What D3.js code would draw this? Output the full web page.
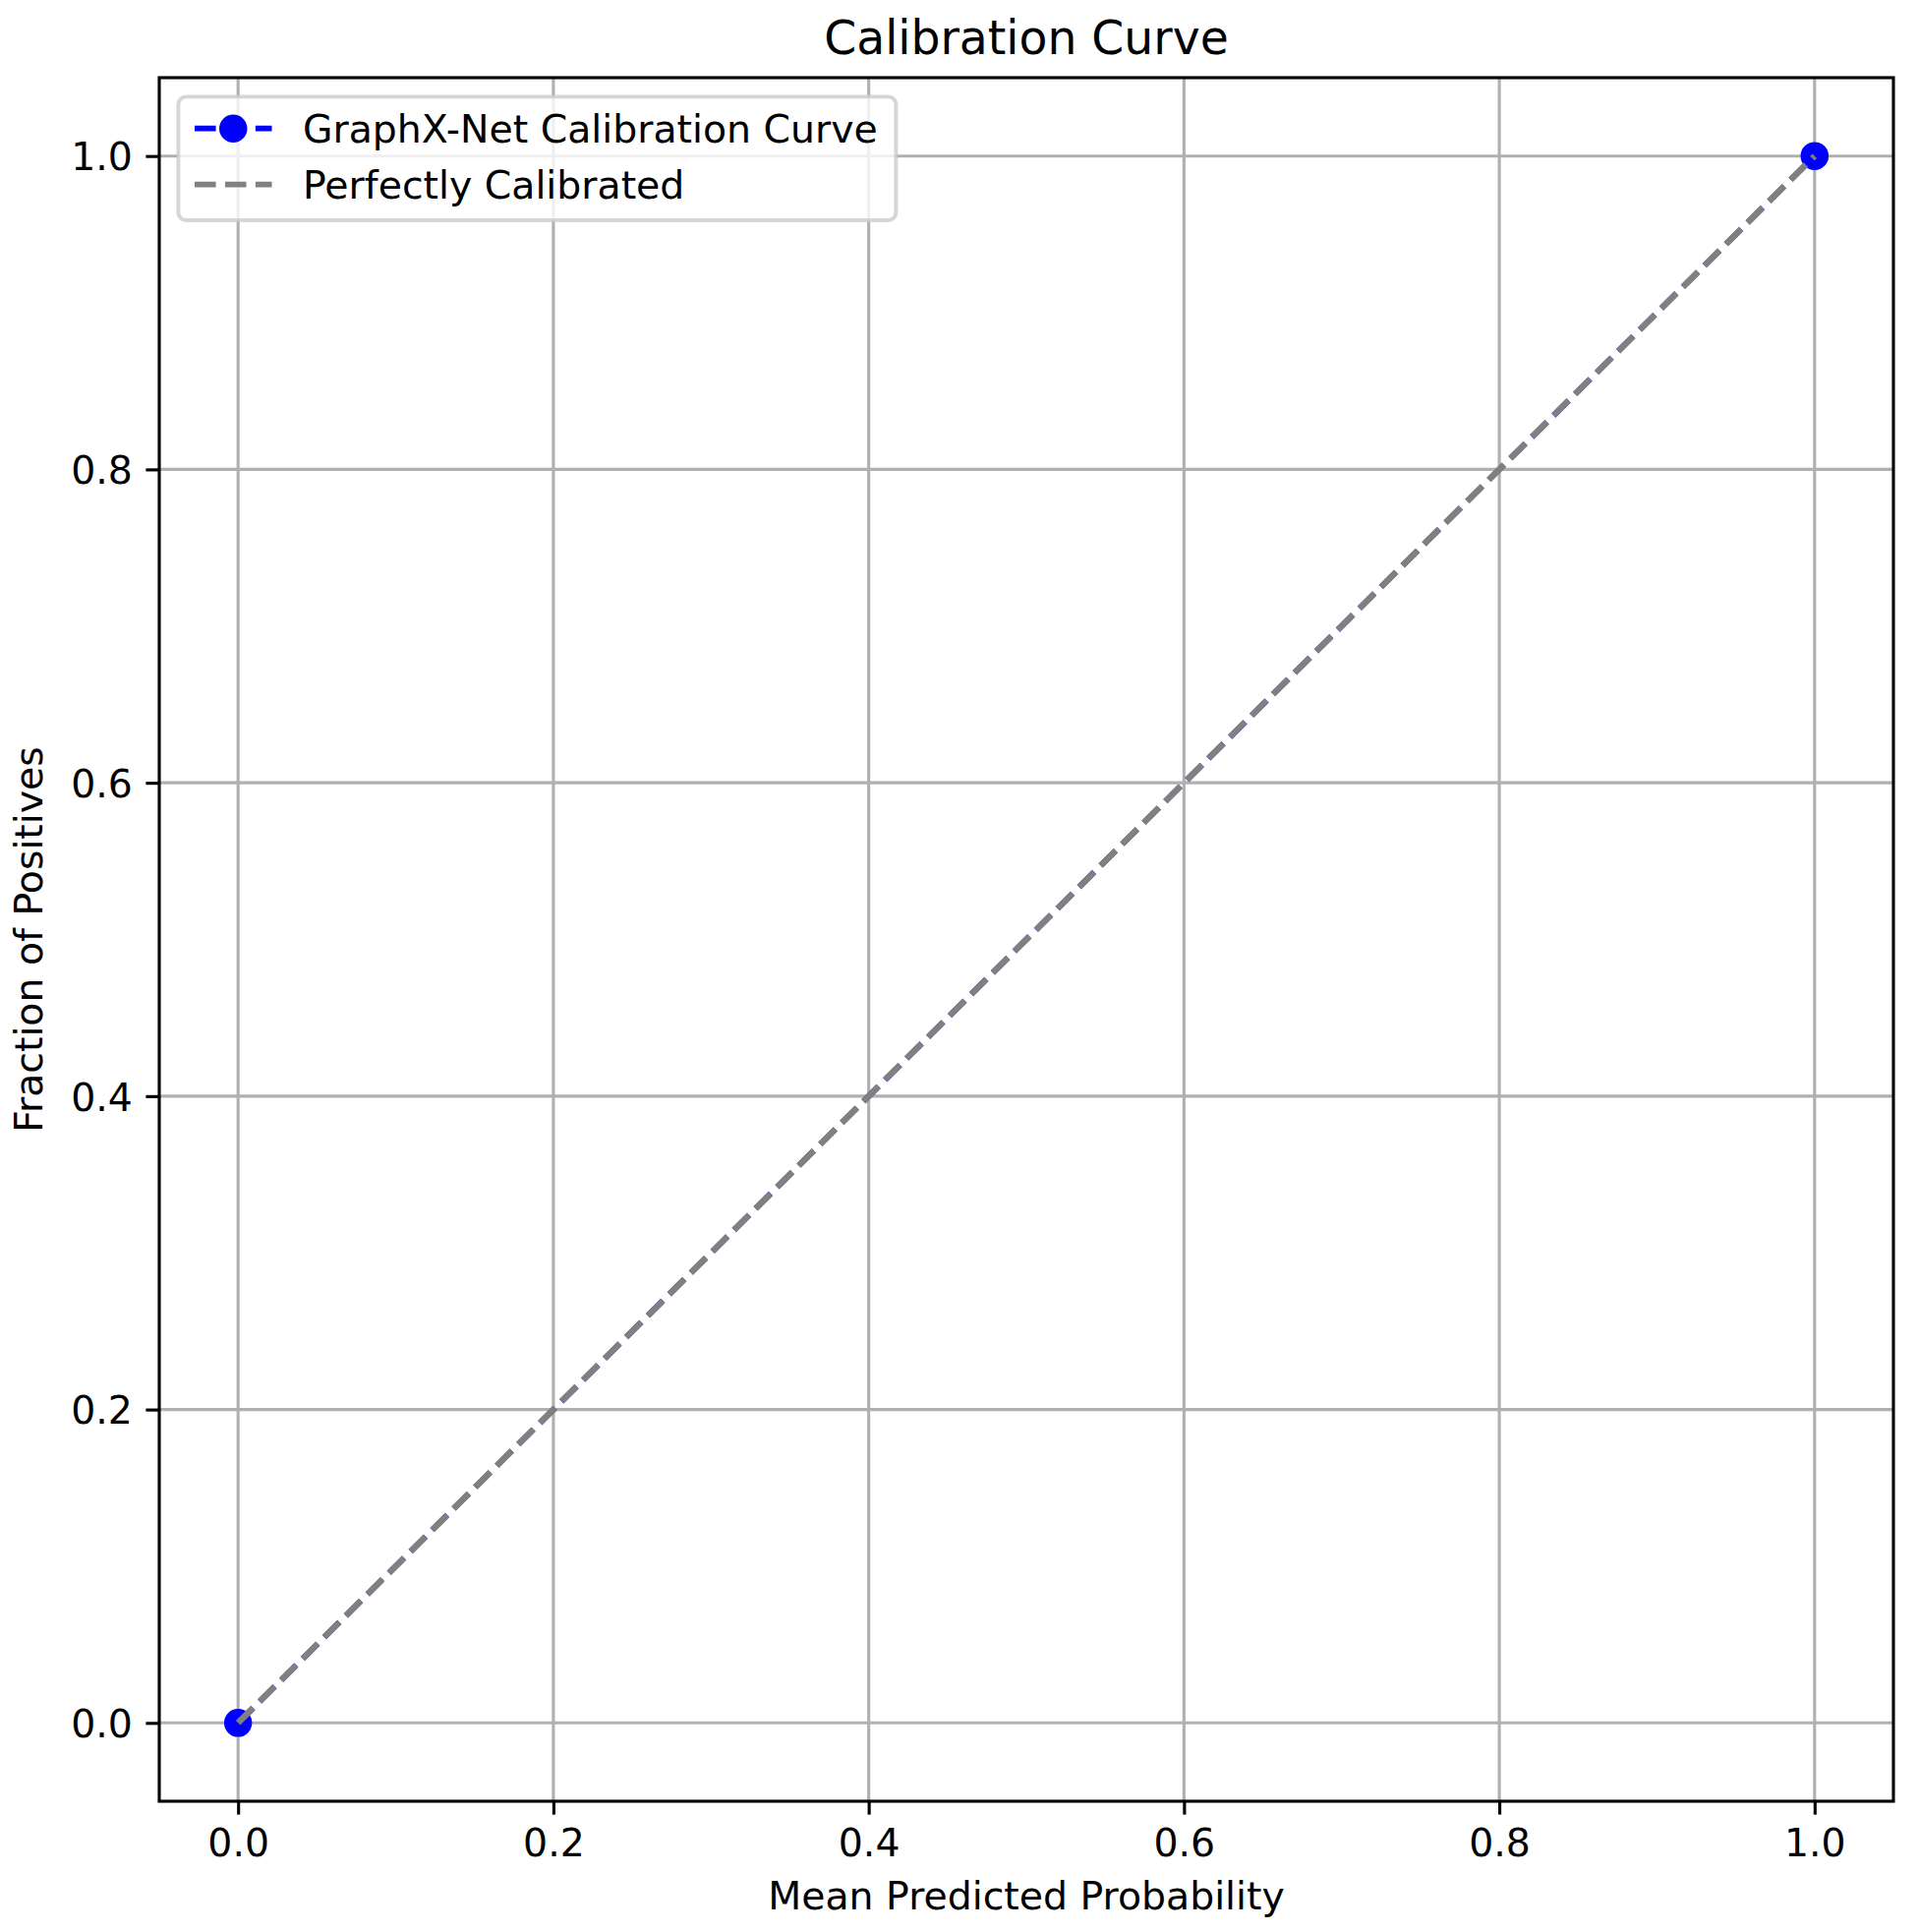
<!DOCTYPE html>
<html>
<head>
<meta charset="utf-8">
<script src="https://cdn.jsdelivr.net/npm/d3@7"></script>
<style>
  body { margin: 0; background: #fff; }
  text { font-family: "DejaVu Sans", sans-serif; fill: #000; }
</style>
</head>
<body>
<div id="chart"></div>
<script>
// calibration points
var meanPredicted = [0.0, 1.0]
var fractionPositives = [0.0, 1.0]
var perfectX = [0.0, 1.0]
var perfectY = [0.0, 1.0]
var tickValues = [0.0, 0.2, 0.4, 0.6, 0.8, 1.0]
var seriesNames = ["GraphX-Net Calibration Curve", "Perfectly Calibrated"]

var width = 1951
var height = 1965
var pt = 3.89  // px per point

margin = {top: 79, left: 162, bottom: 133, right: 25}
chartWidth = width - (margin.left + margin.right)
chartHeight = height - (margin.top + margin.bottom)

var svg = d3.select("#chart").append("svg")
  .attr("width", width)
  .attr("height", height)

var x = d3.scaleLinear().domain([-0.05, 1.05]).range([margin.left, margin.left + chartWidth])
var y = d3.scaleLinear().domain([-0.05, 1.05]).range([margin.top + chartHeight, margin.top])

var fs = 39.4
var lw = 1.5 * pt
var dash = (3.7 * 1.5 * pt) + "," + (1.6 * 1.5 * pt)

// grid
svg.append("g")
  .selectAll("line.gx")
  .data(tickValues)
  .enter().append("line")
  .attr("x1", function(d){ return x(d) })
  .attr("x2", function(d){ return x(d) })
  .attr("y1", y.range()[0])
  .attr("y2", y.range()[1])
  .attr("stroke", "#b0b0b0")
  .attr("stroke-width", 0.8 * pt)

svg.append("g")
  .selectAll("line.gy")
  .data(tickValues)
  .enter().append("line")
  .attr("y1", function(d){ return y(d) })
  .attr("y2", function(d){ return y(d) })
  .attr("x1", x.range()[0])
  .attr("x2", x.range()[1])
  .attr("stroke", "#b0b0b0")
  .attr("stroke-width", 0.8 * pt)

var line = d3.line()
  .x(function(d){ return x(d[0]) })
  .y(function(d){ return y(d[1]) })

var curve = d3.zip(meanPredicted, fractionPositives)
var perfect = d3.zip(perfectX, perfectY)

svg.append("path")
  .datum(curve)
  .attr("d", line)
  .attr("fill", "none")
  .attr("stroke", "#0000ff")
  .attr("stroke-width", lw)
  .attr("stroke-dasharray", dash)

svg.append("g")
  .selectAll("circle")
  .data(curve)
  .enter().append("circle")
  .attr("cx", function(d){ return x(d[0]) })
  .attr("cy", function(d){ return y(d[1]) })
  .attr("r", 12.3)
  .attr("fill", "#0000ff")
  .attr("stroke", "#0000ff")
  .attr("stroke-width", pt)

svg.append("path")
  .datum(perfect)
  .attr("d", line)
  .attr("fill", "none")
  .attr("stroke", "#808080")
  .attr("stroke-width", lw + 0.5)
  .attr("stroke-dasharray", dash)

// axes
var fmt = d3.format(".1f")
var xAxis = svg.append("g")
  .attr("transform", "translate(0," + y.range()[0] + ")")
  .call(d3.axisBottom(x).tickValues(tickValues).tickFormat(fmt).tickSize(3.5 * pt).tickPadding(3.5 * pt))
var yAxis = svg.append("g")
  .attr("transform", "translate(" + x.range()[0] + ",0)")
  .call(d3.axisLeft(y).tickValues(tickValues).tickFormat(fmt).tickSize(3.5 * pt).tickPadding(3.5 * pt))

;[xAxis, yAxis].forEach(function(g){
  g.select(".domain").remove()
  g.selectAll(".tick line").attr("stroke", "#000").attr("stroke-width", 0.8 * pt)
  g.selectAll(".tick text")
    .style("font-family", "DejaVu Sans")
    .style("font-size", fs + "px")
    .attr("fill", "#000")
})
xAxis.selectAll(".tick text").attr("dy", "0.74em")
yAxis.selectAll(".tick text").attr("dy", "0.36em")

// frame
svg.append("rect")
  .attr("x", x.range()[0])
  .attr("y", y.range()[1])
  .attr("width", chartWidth)
  .attr("height", chartHeight)
  .attr("fill", "none")
  .attr("stroke", "#000")
  .attr("stroke-width", 0.8 * pt)

// titles
svg.append("text")
  .attr("x", margin.left + chartWidth / 2)
  .attr("y", 55)
  .attr("text-anchor", "middle")
  .style("font-size", (1.2 * fs) + "px")
  .text("Calibration Curve")

svg.append("text")
  .attr("x", margin.left + chartWidth / 2)
  .attr("y", 1942)
  .attr("text-anchor", "middle")
  .style("font-size", fs + "px")
  .text("Mean Predicted Probability")

svg.append("text")
  .attr("transform", "translate(43," + (margin.top + chartHeight / 2) + ") rotate(-90)")
  .attr("text-anchor", "middle")
  .style("font-size", fs + "px")
  .text("Fraction of Positives")

// legend
var lgX = margin.left + 19.4
var lgY = margin.top + 19.4
var legend = svg.append("g")

legend.append("rect")
  .attr("x", lgX)
  .attr("y", lgY)
  .attr("width", 730)
  .attr("height", 125.6)
  .attr("rx", 7.8)
  .attr("fill", "#fff")
  .attr("fill-opacity", 0.8)
  .attr("stroke", "#cccccc")
  .attr("stroke-opacity", 0.8)
  .attr("stroke-width", pt)

var hx0 = 198
var hx1 = 276.5
var rows = [130.7, 187.7]

legend.selectAll("text")
  .data(seriesNames)
  .enter().append("text")
  .attr("x", 308)
  .attr("y", function(d, i){ return rows[i] + 0.36 * fs })
  .style("font-size", fs + "px")
  .text(function(d){ return d })

legend.append("line")
  .attr("x1", hx0).attr("x2", hx1)
  .attr("y1", rows[0]).attr("y2", rows[0])
  .attr("stroke", "#0000ff")
  .attr("stroke-width", lw)
  .attr("stroke-dasharray", dash)
legend.append("circle")
  .attr("cx", (hx0 + hx1) / 2)
  .attr("cy", rows[0])
  .attr("r", 12.3)
  .attr("fill", "#0000ff")
  .attr("stroke", "#0000ff")
  .attr("stroke-width", pt)
legend.append("line")
  .attr("x1", hx0).attr("x2", hx1)
  .attr("y1", rows[1]).attr("y2", rows[1])
  .attr("stroke", "#808080")
  .attr("stroke-width", lw)
  .attr("stroke-dasharray", dash)
</script>
</body>
</html>
